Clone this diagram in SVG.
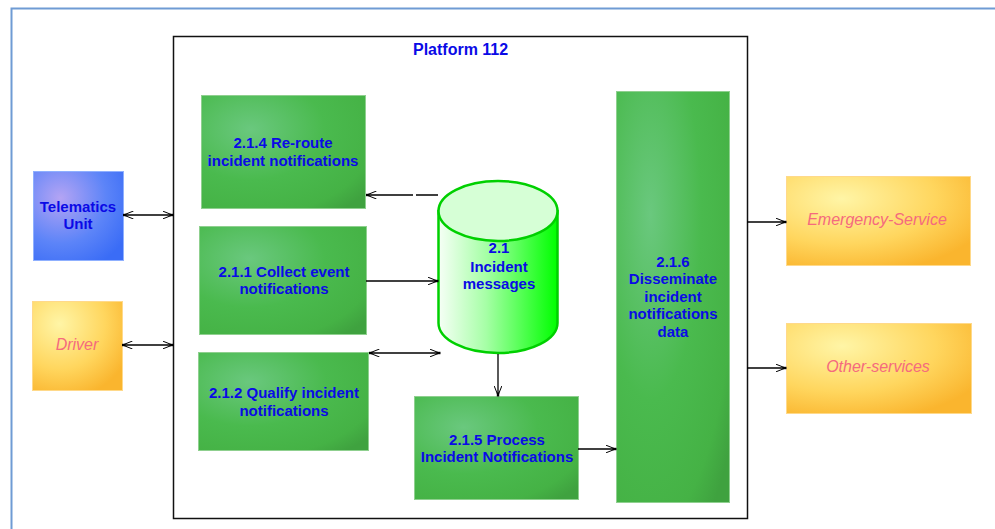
<svg xmlns="http://www.w3.org/2000/svg" width="995" height="529" viewBox="0 0 995 529">
<defs>
<style>
.lbl{font-family:"Liberation Sans",Arial,sans-serif;font-size:15px;font-weight:bold;fill:#0a0ae6;text-anchor:middle}
.ext{font-family:"Liberation Sans",Arial,sans-serif;font-size:16px;font-style:italic;fill:#f56a7e;text-anchor:middle}
.proc{fill:url(#gGreen);stroke:#8fd08f;stroke-width:1}
.blue{fill:url(#gBlue);stroke:#8fb0ff;stroke-width:1}
.yel{fill:url(#gYel);stroke:#ffd98a;stroke-width:1}
.con{fill:none;stroke:#000;stroke-width:1.3}
</style>
<radialGradient id="gGreen" cx="0.3" cy="0.3" r="0.9">
<stop offset="0" stop-color="#6ac87e"/>
<stop offset="0.5" stop-color="#4aba4e"/>
<stop offset="0.85" stop-color="#45b245"/>
<stop offset="1" stop-color="#3fa23f"/>
</radialGradient>
<radialGradient id="gBlue" cx="0.3" cy="0.3" r="0.85">
<stop offset="0" stop-color="#b4a4f4"/>
<stop offset="0.6" stop-color="#5c84f8"/>
<stop offset="1" stop-color="#3a6cf6"/>
</radialGradient>
<radialGradient id="gYel" cx="0.3" cy="0.25" r="0.85">
<stop offset="0" stop-color="#fff5a6"/>
<stop offset="0.6" stop-color="#ffd65e"/>
<stop offset="1" stop-color="#fab52e"/>
</radialGradient>
<linearGradient id="gCyl" x1="0" y1="0" x2="1" y2="0">
<stop offset="0" stop-color="#f6fff6"/>
<stop offset="0.4" stop-color="#a6ffa6"/>
<stop offset="1" stop-color="#00ff00"/>
</linearGradient>
<marker id="arr" viewBox="0 0 11 8" refX="10.5" refY="4" markerWidth="11" markerHeight="8" markerUnits="userSpaceOnUse" orient="auto-start-reverse">
<path d="M0,0 L10,4 L0,8" fill="none" stroke="#000" stroke-width="1"/>
<rect x="7" y="2.8" width="4" height="2.4" fill="#000"/>
</marker>
</defs>
<rect x="0" y="0" width="995" height="529" fill="#fff"/>
<rect x="11.5" y="8.5" width="1000" height="600" fill="none" stroke="#6f9bd4" stroke-width="2"/>

<g id="platform">
<rect x="173.5" y="36.5" width="574" height="482" fill="#fff" stroke="#111" stroke-width="1.5"/>
<text x="413" y="55" class="lbl" style="text-anchor:start;font-size:16px">Platform 112</text>
</g>

<g id="telematics">
<rect class="blue" x="33.5" y="171.5" width="90" height="89"/>
<text class="lbl" x="78" y="212">Telematics</text>
<text class="lbl" x="78" y="229">Unit</text>
</g>

<g id="driver">
<rect class="yel" x="32.5" y="301.5" width="90" height="89"/>
<text class="ext" x="77" y="350">Driver</text>
</g>

<g id="p214">
<rect class="proc" x="201.5" y="95.5" width="164" height="113"/>
<text class="lbl" x="283" y="148">2.1.4 Re-route</text>
<text class="lbl" x="283" y="166">incident notifications</text>
</g>

<g id="p211">
<rect class="proc" x="199.5" y="226.5" width="167" height="108"/>
<text class="lbl" x="284" y="277">2.1.1 Collect event</text>
<text class="lbl" x="284" y="294">notifications</text>
</g>

<g id="p212">
<rect class="proc" x="198.5" y="352.5" width="170" height="98"/>
<text class="lbl" x="284" y="398">2.1.2 Qualify incident</text>
<text class="lbl" x="284" y="416">notifications</text>
</g>

<g id="store21">
<path d="M438.5,211 V323 A59.5,30 0 0 0 557.5,323 V211 Z" fill="url(#gCyl)" stroke="#00d000" stroke-width="2.5"/>
<ellipse cx="498" cy="211" rx="59.5" ry="30" fill="#d6ffd6" stroke="#00d000" stroke-width="2.5"/>
<text class="lbl" x="499" y="253">2.1</text>
<text class="lbl" x="499" y="272">Incident</text>
<text class="lbl" x="499" y="289">messages</text>
</g>

<g id="p215">
<rect class="proc" x="414.5" y="396.5" width="164" height="103"/>
<text class="lbl" x="497" y="445">2.1.5 Process</text>
<text class="lbl" x="497" y="462">Incident Notifications</text>
</g>

<g id="p216">
<rect class="proc" x="616.5" y="91.5" width="113" height="411"/>
<text class="lbl" x="673" y="267">2.1.6</text>
<text class="lbl" x="673" y="284">Disseminate</text>
<text class="lbl" x="673" y="302">incident</text>
<text class="lbl" x="673" y="319">notifications</text>
<text class="lbl" x="673" y="337">data</text>
</g>

<g id="emergency">
<rect class="yel" x="786.5" y="176.5" width="184" height="89"/>
<text class="ext" x="877" y="225">Emergency-Service</text>
</g>

<g id="other">
<rect class="yel" x="786.5" y="323.5" width="185" height="90"/>
<text class="ext" x="878" y="372">Other-services</text>
</g>

<g id="connectors">
<path class="con" d="M123,215 H173" marker-start="url(#arr)" marker-end="url(#arr)"/>
<path class="con" d="M122,345 H173" marker-start="url(#arr)" marker-end="url(#arr)"/>
<path class="con" d="M438,195 H416 M413,195 H366" marker-end="url(#arr)"/>
<path class="con" d="M366,281 H438" marker-end="url(#arr)"/>
<path class="con" d="M369,353 H440" marker-start="url(#arr)" marker-end="url(#arr)"/>
<path class="con" d="M498,354 V396" marker-end="url(#arr)"/>
<path class="con" d="M578,449 H616" marker-end="url(#arr)"/>
<path class="con" d="M747,222 H786" marker-end="url(#arr)"/>
<path class="con" d="M747,368 H786" marker-end="url(#arr)"/>
</g>
</svg>
